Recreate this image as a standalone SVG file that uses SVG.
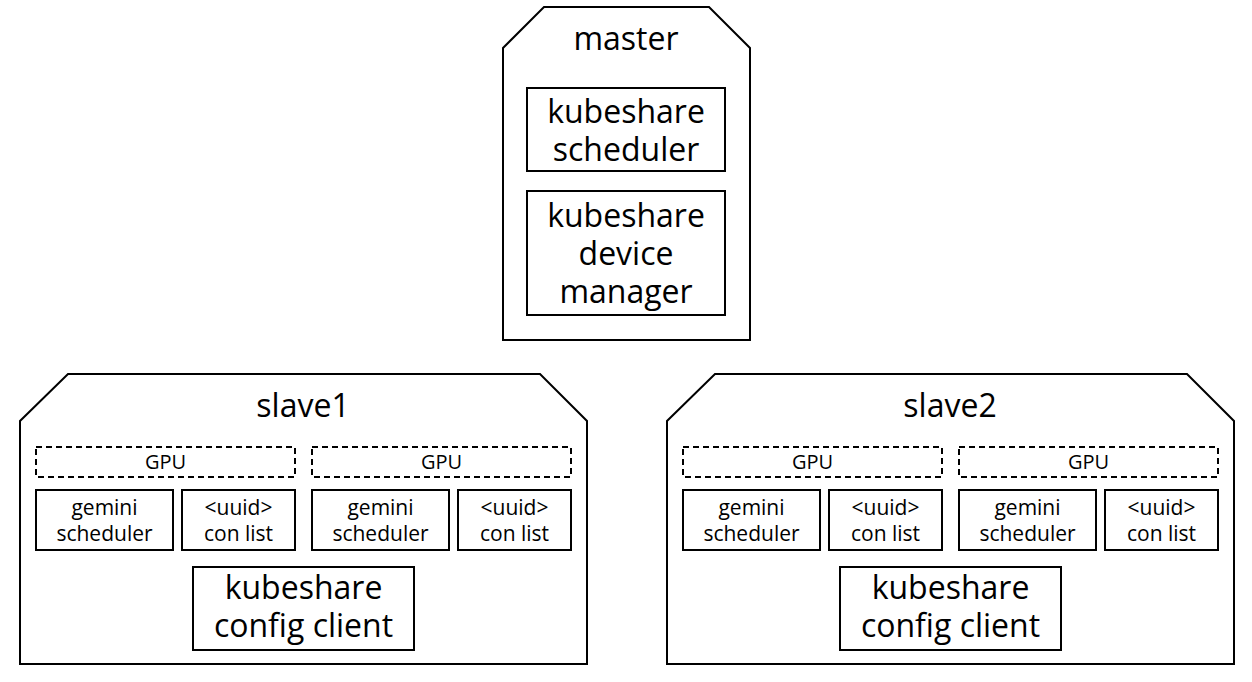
<svg xmlns="http://www.w3.org/2000/svg" width="1252" height="682" viewBox="0 0 1252 682">
<style>
.frame{fill:#fff;stroke:#000;stroke-width:2}
.box{fill:#fff;stroke:#000;stroke-width:2}
.gpu{fill:#fff;stroke:#000;stroke-width:2;stroke-dasharray:6 4}
text{font-family:"Open Sans","Noto Sans",sans-serif;fill:#000;text-anchor:middle}
.big{font-size:32px}
.small{font-size:21px}
.gput{font-size:20px}
</style>
<rect width="1252" height="682" fill="#fff"/>
<g id="master">
<polygon class="frame" points="544,7 709,7 750,48 750,340 503,340 503,48"/>
<text class="big" x="626" y="50">master</text>
</g>
<g id="kubeshare-scheduler">
<rect class="box" x="527" y="88" width="198" height="83"/>
<text class="big" x="626" y="123">kubeshare</text>
<text class="big" x="626" y="161">scheduler</text>
</g>
<g id="kubeshare-device-manager">
<rect class="box" x="527" y="191" width="198" height="124"/>
<text class="big" x="626" y="227">kubeshare</text>
<text class="big" x="626" y="265">device</text>
<text class="big" x="626" y="303">manager</text>
</g>

<g id="slave1">
<polygon class="frame" points="68,374 540,374 587,421 587,664 20,664 20,421"/>
<text class="big" x="303" y="417">slave1</text>
</g>
<g id="slave1-gpu1">
<rect class="gpu" x="36" y="447" width="259" height="30"/>
<text class="gput" x="165.5" y="469">GPU</text>
</g>
<g id="slave1-gemini1">
<rect class="box" x="36" y="490" width="137" height="60"/>
<text class="small" x="104.5" y="515">gemini</text>
<text class="small" x="104.5" y="541">scheduler</text>
</g>
<g id="slave1-uuid1">
<rect class="box" x="182" y="490" width="113" height="60"/>
<text class="small" x="238.5" y="515">&lt;uuid&gt;</text>
<text class="small" x="238.5" y="541">con list</text>
</g>
<g id="slave1-gpu2">
<rect class="gpu" x="312" y="447" width="259" height="30"/>
<text class="gput" x="441.5" y="469">GPU</text>
</g>
<g id="slave1-gemini2">
<rect class="box" x="312" y="490" width="137" height="60"/>
<text class="small" x="380.5" y="515">gemini</text>
<text class="small" x="380.5" y="541">scheduler</text>
</g>
<g id="slave1-uuid2">
<rect class="box" x="458" y="490" width="113" height="60"/>
<text class="small" x="514.5" y="515">&lt;uuid&gt;</text>
<text class="small" x="514.5" y="541">con list</text>
</g>
<g id="slave1-config-client">
<rect class="box" x="193" y="567" width="221" height="83"/>
<text class="big" x="303.5" y="599">kubeshare</text>
<text class="big" x="303.5" y="637">config client</text>
</g>

<g id="slave2">
<polygon class="frame" points="715,374 1187,374 1234,421 1234,664 667,664 667,421"/>
<text class="big" x="950" y="417">slave2</text>
</g>
<g id="slave2-gpu1">
<rect class="gpu" x="683" y="447" width="259" height="30"/>
<text class="gput" x="812.5" y="469">GPU</text>
</g>
<g id="slave2-gemini1">
<rect class="box" x="683" y="490" width="137" height="60"/>
<text class="small" x="751.5" y="515">gemini</text>
<text class="small" x="751.5" y="541">scheduler</text>
</g>
<g id="slave2-uuid1">
<rect class="box" x="829" y="490" width="113" height="60"/>
<text class="small" x="885.5" y="515">&lt;uuid&gt;</text>
<text class="small" x="885.5" y="541">con list</text>
</g>
<g id="slave2-gpu2">
<rect class="gpu" x="959" y="447" width="259" height="30"/>
<text class="gput" x="1088.5" y="469">GPU</text>
</g>
<g id="slave2-gemini2">
<rect class="box" x="959" y="490" width="137" height="60"/>
<text class="small" x="1027.5" y="515">gemini</text>
<text class="small" x="1027.5" y="541">scheduler</text>
</g>
<g id="slave2-uuid2">
<rect class="box" x="1105" y="490" width="113" height="60"/>
<text class="small" x="1161.5" y="515">&lt;uuid&gt;</text>
<text class="small" x="1161.5" y="541">con list</text>
</g>
<g id="slave2-config-client">
<rect class="box" x="840" y="567" width="221" height="83"/>
<text class="big" x="950.5" y="599">kubeshare</text>
<text class="big" x="950.5" y="637">config client</text>
</g>
<g id="connectors"/>
</svg>
